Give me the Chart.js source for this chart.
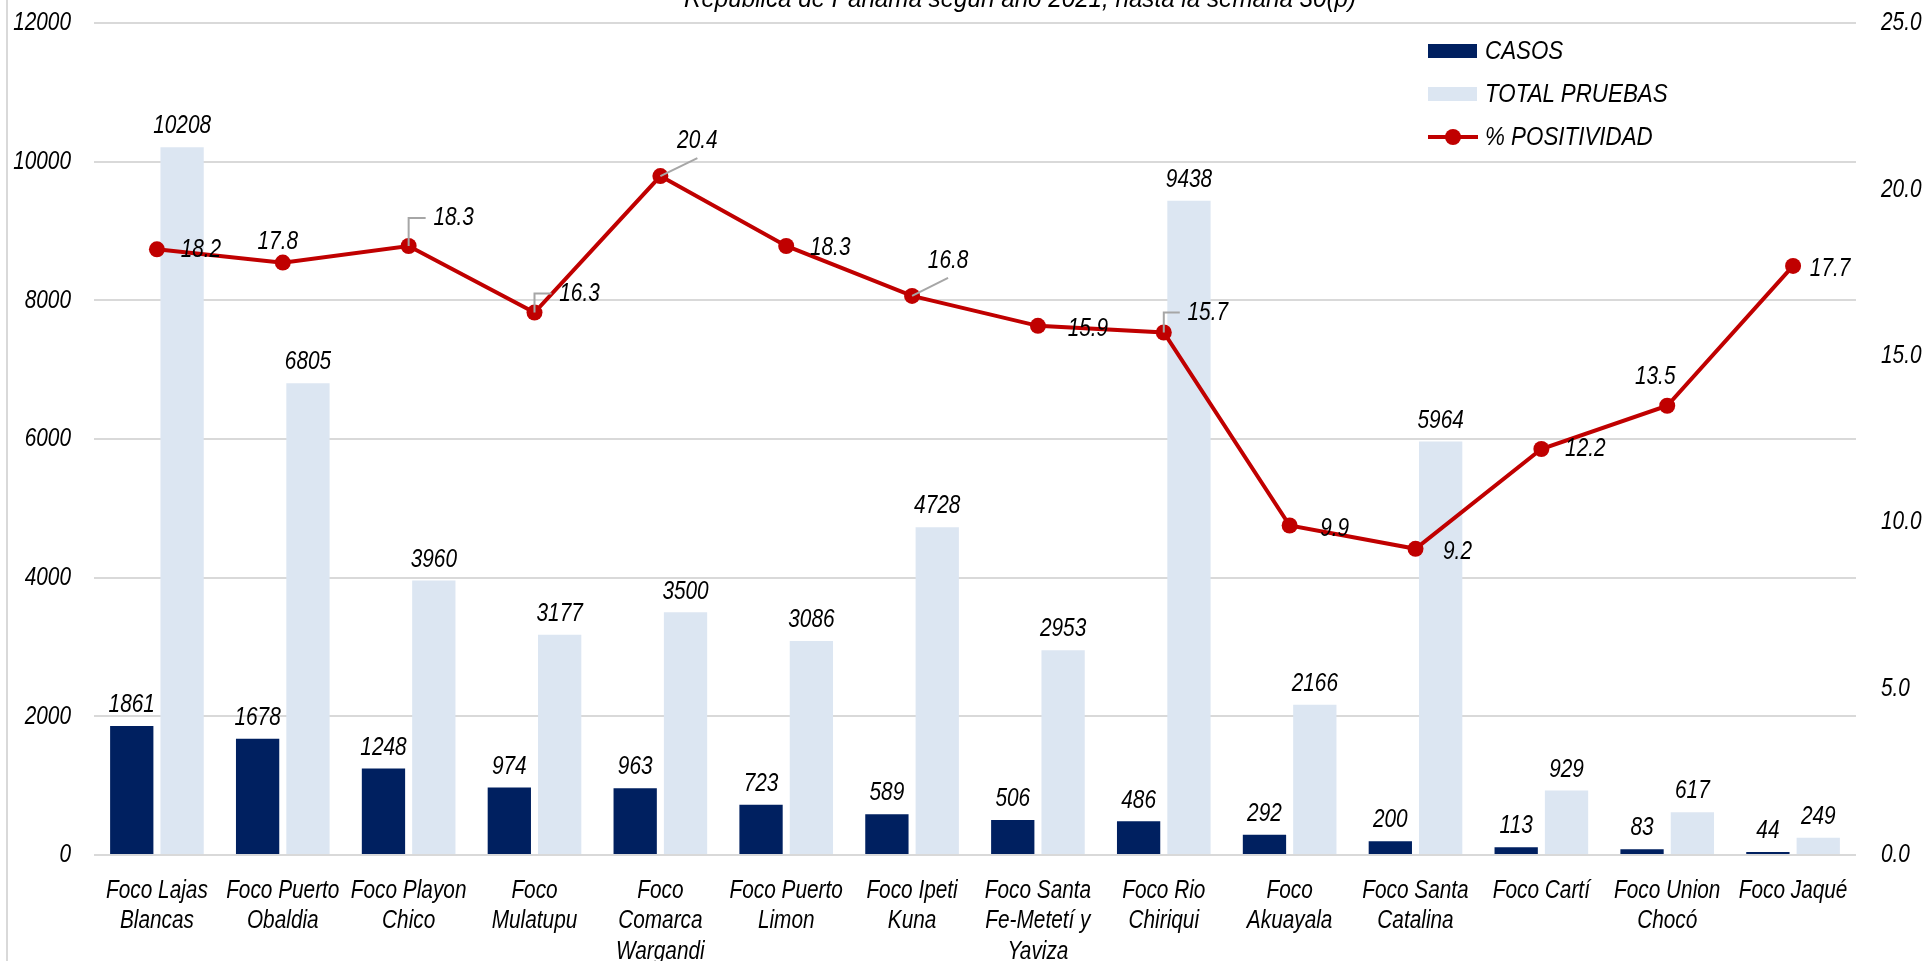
<!DOCTYPE html>
<html>
<head>
<meta charset="utf-8">
<script src="https://cdn.jsdelivr.net/npm/chart.js@4.4.1/dist/chart.umd.min.js"></script>
<style>
  html, body { margin: 0; padding: 0; background: #fff; }
  #wrap { position: relative; width: 1925px; height: 961px; overflow: hidden; }
  #titulo {
    position: absolute; left: 1020px; top: -17px; white-space: nowrap;
    transform: translateX(-50%) scaleX(0.93);
    font: italic 26px 'Liberation Sans', Arial, sans-serif; color: #000;
  }
  #leyenda {
    position: absolute; left: 1428px; top: 29px;
    font: italic 26px 'Liberation Sans', Arial, sans-serif; color: #000;
  }
  .fila { height: 43px; display: flex; align-items: center; white-space: nowrap; }
  .fila b { font-weight: normal; display: inline-block; transform: scaleX(0.86); transform-origin: left center; }
  .cuadro { width: 49px; height: 14px; margin-right: 8px; }
  .linea { position: relative; width: 50px; height: 4px; background: #c00000; margin-right: 7px; }
  .linea span { position: absolute; left: 17px; top: -6px; width: 16px; height: 16px; border-radius: 50%; background: #c00000; }
</style>
</head>
<body>
<div id="wrap">
  <canvas id="grafico" width="1925" height="961"></canvas>
  <div id="titulo">República de Panamá según año 2021, hasta la semana 30(p)</div>
  <div id="leyenda">
    <div class="fila"><div class="cuadro" style="background:#002060"></div><b>CASOS</b></div>
    <div class="fila"><div class="cuadro" style="background:#dce6f2"></div><b>TOTAL PRUEBAS</b></div>
    <div class="fila"><div class="linea"><span></span></div><b>% POSITIVIDAD</b></div>
  </div>
</div>
<script>
// datos del grafico
const focos = [
  ["Foco Lajas", "Blancas"], ["Foco Puerto", "Obaldia"], ["Foco Playon", "Chico"],
  ["Foco", "Mulatupu"], ["Foco", "Comarca", "Wargandi"], ["Foco Puerto", "Limon"],
  ["Foco Ipeti", "Kuna"], ["Foco Santa", "Fe-Metetí y", "Yaviza"], ["Foco Rio", "Chiriqui"],
  ["Foco", "Akuayala"], ["Foco Santa", "Catalina"], ["Foco Cartí"], ["Foco Union", "Chocó"],
  ["Foco Jaqué"]
];
const casos = [1861, 1678, 1248, 974, 963, 723, 589, 506, 486, 292, 200, 113, 83, 44];
const pruebas = [10208, 6805, 3960, 3177, 3500, 3086, 4728, 2953, 9438, 2166, 5964, 929, 617, 249];
const positividad = [18.2, 17.8, 18.3, 16.3, 20.4, 18.3, 16.8, 15.9, 15.7, 9.9, 9.2, 12.2, 13.5, 17.7];

// posicion de las etiquetas de % (desplazamiento desde el punto)
const etiqDx = [44, -5, 45, 45, 37, 44, 36, 50, 44, 45, 42, 44, -12, 37];
const etiqDy = [0, -21, -28, -19, -35, 2, -35, 3, -20, 3, 3, 0, -29, 3];
const guia = ["", "", "codo", "codo", "diag", "", "diag", "", "codo", "", "", "", "", ""];

const FUENTE = "'Liberation Sans', Arial, sans-serif";
const ESTRECHO = 0.8; // no hay Arial Narrow, se comprime el texto a mano

const canvas = document.getElementById('grafico');
const c2d = canvas.getContext('2d');
const fillOrig = c2d.fillText.bind(c2d);
const measureOrig = c2d.measureText.bind(c2d);
c2d.fillText = function (txt, x, y) {
  this.save();
  this.translate(x, y);
  this.scale(ESTRECHO, 1);
  fillOrig(txt, 0, 0);
  this.restore();
};
c2d.measureText = function (txt) {
  const m = measureOrig(txt);
  return { width: m.width * ESTRECHO, actualBoundingBoxAscent: m.actualBoundingBoxAscent,
           actualBoundingBoxDescent: m.actualBoundingBoxDescent };
};

// sin relleno extra de las escalas, el area la fija layout.padding
function sinRelleno(s) {
  s.paddingTop = 0; s.paddingBottom = 0; s.paddingLeft = 0; s.paddingRight = 0;
}

// etiquetas de valores dibujadas a mano
const etiquetas = {
  id: 'etiquetas',
  beforeDraw(chart) {
    const ctx = chart.ctx;
    ctx.save();
    ctx.fillStyle = '#d9d9d9';
    ctx.fillRect(6, 0, 2, chart.height); // borde izquierdo
    ctx.restore();
  },
  afterDatasetsDraw(chart) {
    const ctx = chart.ctx;
    ctx.save();
    ctx.font = 'italic 26px ' + FUENTE;
    ctx.fillStyle = '#000';
    ctx.textAlign = 'center';
    ctx.textBaseline = 'middle';

    // barras
    [0, 1].forEach(d => {
      const meta = chart.getDatasetMeta(d);
      meta.data.forEach((bar, i) => {
        ctx.fillText(String(chart.data.datasets[d].data[i]), bar.x, bar.y - 21);
      });
    });

    // linea
    const meta = chart.getDatasetMeta(2);
    meta.data.forEach((pt, i) => {
      const tx = pt.x + etiqDx[i];
      const ty = pt.y + etiqDy[i];
      ctx.strokeStyle = '#a6a6a6';
      ctx.lineWidth = 2;
      if (guia[i] === 'codo') {
        ctx.beginPath();
        ctx.moveTo(pt.x, pt.y);
        ctx.lineTo(pt.x, ty);
        ctx.lineTo(tx - 28, ty);
        ctx.stroke();
      } else if (guia[i] === 'diag') {
        ctx.beginPath();
        ctx.moveTo(pt.x, pt.y);
        ctx.lineTo(tx, ty + 17);
        ctx.stroke();
      }
      ctx.fillText(positividad[i].toFixed(1), tx, ty);
    });
    ctx.restore();
  }
};

const chart = new Chart(canvas, {
  type: 'bar',
  data: {
    labels: focos,
    datasets: [
      { label: 'CASOS', data: casos, backgroundColor: '#002060', yAxisID: 'y', order: 2,
        categoryPercentage: 0.8, barPercentage: 0.86 },
      { label: 'TOTAL PRUEBAS', data: pruebas, backgroundColor: '#dce6f2', yAxisID: 'y', order: 3,
        categoryPercentage: 0.8, barPercentage: 0.86 },
      { label: '% POSITIVIDAD', type: 'line', data: positividad, yAxisID: 'y1', order: 1,
        borderColor: '#c00000', backgroundColor: '#c00000', borderWidth: 4,
        pointRadius: 8, pointBackgroundColor: '#c00000', pointBorderWidth: 0, tension: 0 }
    ]
  },
  options: {
    responsive: false,
    animation: false,
    devicePixelRatio: 1,
    layout: { padding: { top: 23, left: 0, right: 0, bottom: 0 } },
    plugins: { legend: { display: false }, tooltip: { enabled: false } },
    scales: {
      x: {
        grid: { display: false },
        border: { display: false },
        ticks: { color: '#000', font: { family: FUENTE, size: 26, style: 'italic', lineHeight: 1.18 },
                 padding: 12, maxRotation: 0, autoSkip: false },
        afterFit(s) { s.height = 106; sinRelleno(s); }
      },
      y: {
        position: 'left', min: 0, max: 12000,
        ticks: { stepSize: 2000, color: '#000', padding: 23,
                 font: { family: FUENTE, size: 26, style: 'italic' },
                 callback: v => String(v) },
        grid: { color: '#d9d9d9', lineWidth: 2, drawTicks: false },
        border: { display: false },
        afterFit(s) { s.width = 94; sinRelleno(s); }
      },
      y1: {
        position: 'right', min: 0, max: 25,
        ticks: { stepSize: 5, color: '#000', padding: 25,
                 font: { family: FUENTE, size: 26, style: 'italic' },
                 callback: v => v.toFixed(1) },
        grid: { display: false, drawTicks: false },
        border: { display: false },
        afterFit(s) { s.width = 69; sinRelleno(s); }
      }
    }
  },
  plugins: [etiquetas]
});
</script>
</body>
</html>
